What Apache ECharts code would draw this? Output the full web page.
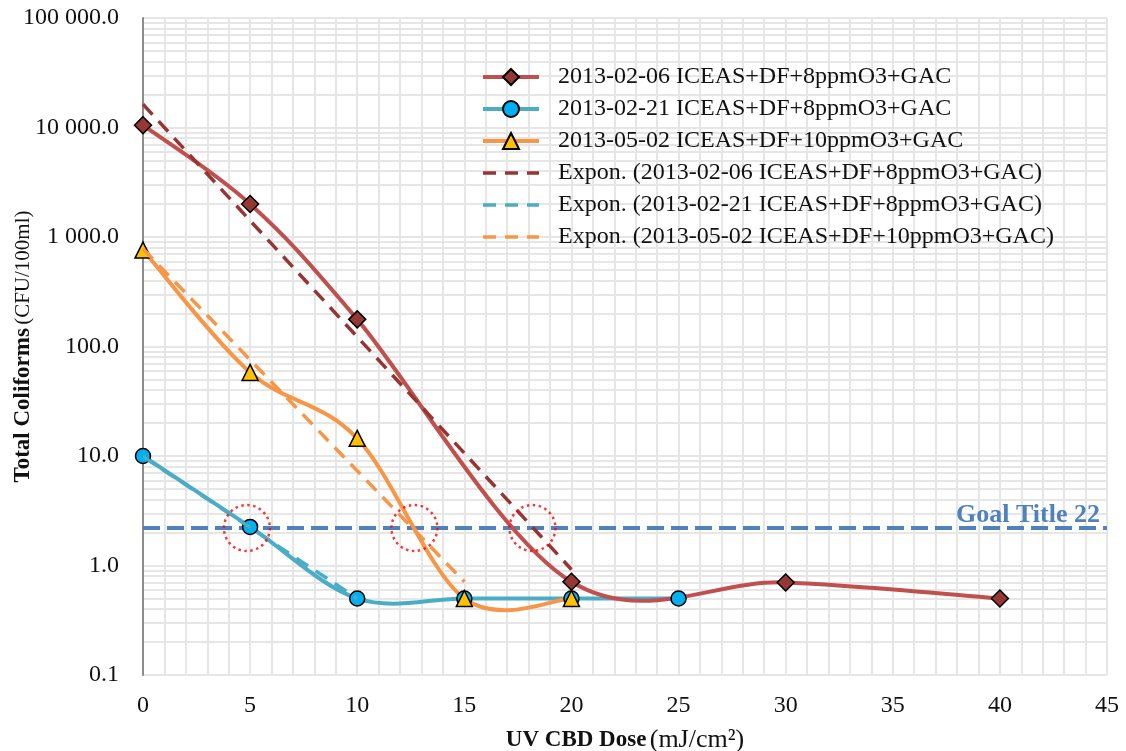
<!DOCTYPE html>
<html>
<head>
<meta charset="utf-8">
<script src="https://cdn.jsdelivr.net/npm/echarts@6/dist/echarts.min.js"></script>
<style>
  html, body { margin: 0; padding: 0; background: #fff; }
  #chart { width: 1126px; height: 751px; }
</style>
</head>
<body>
<div id="chart"></div>
<script>
// UV dose (mJ/cm²) and total coliform counts (CFU/100ml)
const doseFeb06 = [0, 5, 10, 20, 30, 40];
const countFeb06 = [10500, 2000, 177, 0.71, 0.7, 0.5];
const doseFeb21 = [0, 5, 10, 15, 20, 25];
const countFeb21 = [10, 2.25, 0.5, 0.5, 0.5, 0.5];
const doseMay02 = [0, 5, 10, 15, 20];
const countMay02 = [760, 58, 14.5, 0.5, 0.5];

// exponential trendline end points [dose, count]
const trendFeb06 = [[0, 16300], [20, 0.92]];
const trendFeb21 = [[0, 9.9], [10, 0.5]];
const trendMay02 = [[0, 780], [15, 0.71]];

// Title 22 total coliform goal
const goalValue = 2.2;
const goalLabel = 'Goal Title 22';

// highlighted crossings of the goal line
const crossDose = [4.85, 12.67, 18.18];

const names = [
  '2013-02-06 ICEAS+DF+8ppmO3+GAC',
  '2013-02-21 ICEAS+DF+8ppmO3+GAC',
  '2013-05-02 ICEAS+DF+10ppmO3+GAC',
  'Expon. (2013-02-06 ICEAS+DF+8ppmO3+GAC)',
  'Expon. (2013-02-21 ICEAS+DF+8ppmO3+GAC)',
  'Expon. (2013-05-02 ICEAS+DF+10ppmO3+GAC)'
];

const xTicks = { min: 0, max: 45, step: 5 };
const yTicks = { min: 0.1, max: 100000 };

// minor log grid lines (2..9 in every decade)
const yMinorGrid = [];
for (let d = yTicks.min; d < yTicks.max; d *= 10) {
  for (let k = 2; k <= 9; k++) yMinorGrid.push(+(d * k).toPrecision(3));
}

const zip = (xs, ys) => xs.map((x, i) => [x, ys[i]]);
const FONT = '"Liberation Serif", "DejaVu Serif", serif';
const GRID_COLOR = '#e6e6e6';
const TEXT = '#111';

const COLORS = {
  feb06: { line: '#c0504d', fill: '#953735', trend: '#943634' },
  feb21: { line: '#4bacc6', fill: '#00b0f0', trend: '#4bacc6' },
  may02: { line: '#f79646', fill: '#ffc000', trend: '#f79646' }
};

function fmtCount(v) {
  const s = Number(v).toFixed(1);
  const [ip, dp] = s.split('.');
  return ip.replace(/\B(?=(\d{3})+(?!\d))/g, ' ') + '.' + dp;
}

const chart = echarts.init(document.getElementById('chart'), null, { renderer: 'canvas' });

// Smoothed curve through the points (cardinal spline in screen space)
const curve = (xs, ys, color) => ({
  type: 'custom', name: 'curve', coordinateSystem: 'cartesian2d', z: 3, silent: true,
  data: zip(xs, ys), encode: { x: 0, y: 1 },
  renderItem(params, api) {
    if (params.dataIndex !== 0) return null;
    const p = zip(xs, ys).map(v => api.coord(v));
    const n = p.length;
    const children = [];
    for (let i = 0; i < n - 1; i++) {
      const p0 = p[Math.max(i - 1, 0)], p1 = p[i], p2 = p[i + 1], p3 = p[Math.min(i + 2, n - 1)];
      children.push({
        type: 'bezierCurve',
        shape: {
          x1: p1[0], y1: p1[1], x2: p2[0], y2: p2[1],
          cpx1: p1[0] + (p2[0] - p0[0]) / 6, cpy1: p1[1] + (p2[1] - p0[1]) / 6,
          cpx2: p2[0] - (p3[0] - p1[0]) / 6, cpy2: p2[1] - (p3[1] - p1[1]) / 6
        },
        style: { fill: null, stroke: color, lineWidth: 4, lineCap: 'round' }
      });
    }
    return { type: 'group', children };
  }
});

// Markers only; the line itself is drawn by the curve above
const markers = (name, data, c, symbol, size) => ({
  name, type: 'line', data, z: 4,
  symbol, symbolSize: size, showSymbol: true,
  lineStyle: { color: c.line, width: 4, opacity: 0 },
  itemStyle: { color: c.fill, borderColor: '#000', borderWidth: 1.5 },
  emphasis: { disabled: true }
});
const trend = (name, data, color) => ({
  name, type: 'line', data, z: 5,
  symbol: 'none', showSymbol: false,
  lineStyle: { color, width: 3.5, type: [14, 9] },
  itemStyle: { color },
  emphasis: { disabled: true }
});

const legendData = [
  { name: names[0], lineStyle: { color: COLORS.feb06.line, width: 4, opacity: 1, type: 'solid' } },
  { name: names[1], lineStyle: { color: COLORS.feb21.line, width: 4, opacity: 1, type: 'solid' } },
  { name: names[2], lineStyle: { color: COLORS.may02.line, width: 4, opacity: 1, type: 'solid' } },
  { name: names[3], itemStyle: { opacity: 0 }, lineStyle: { color: COLORS.feb06.trend, width: 3.5, type: [13, 9] } },
  { name: names[4], itemStyle: { opacity: 0 }, lineStyle: { color: COLORS.feb21.trend, width: 3.5, type: [13, 9] } },
  { name: names[5], itemStyle: { opacity: 0 }, lineStyle: { color: COLORS.may02.trend, width: 3.5, type: [13, 9] } }
];

chart.setOption({
  animation: false,
  backgroundColor: '#fff',
  grid: { left: 143, right: 19, top: 18, bottom: 76, containLabel: false, outerBoundsMode: 'none' },
  legend: {
    orient: 'vertical', left: 481, top: 65, padding: 0, z: 8,
    itemWidth: 56, itemHeight: 20, itemGap: 8,
    data: legendData,
    textStyle: { fontFamily: FONT, fontSize: 24, lineHeight: 24, color: TEXT, padding: [0, 0, 0, 14] }
  },
  xAxis: {
    type: 'value', min: xTicks.min, max: xTicks.max, interval: xTicks.step,
    name: '{b|UV CBD Dose} {r|(mJ/cm²)}',
    nameLocation: 'middle', nameGap: 52,
    nameTextStyle: {
      rich: {
        b: { fontFamily: FONT, fontSize: 23, fontWeight: 'bold', color: TEXT },
        r: { fontFamily: FONT, fontSize: 26, color: TEXT }
      }
    },
    axisLine: { show: false },
    axisTick: { show: false },
    axisLabel: { fontFamily: FONT, fontSize: 24, color: TEXT, margin: 19 },
    splitLine: { show: true, lineStyle: { color: GRID_COLOR, width: 2 } },
    minorTick: { show: false, splitNumber: 5 },
    minorSplitLine: { show: true, lineStyle: { color: GRID_COLOR, width: 2 } }
  },
  yAxis: {
    type: 'log', logBase: 10, min: yTicks.min, max: yTicks.max,
    name: '{b|Total Coliforms} {r|(CFU/100ml)}',
    nameLocation: 'middle', nameRotate: 90, nameGap: 108, nameMoveOverlap: false,
    nameTextStyle: {
      rich: {
        b: { fontFamily: FONT, fontSize: 23, fontWeight: 'bold', color: TEXT },
        r: { fontFamily: FONT, fontSize: 21, color: TEXT }
      }
    },
    axisLine: { show: true, lineStyle: { color: '#8c8c8c', width: 2 } },
    axisTick: { show: false },
    axisLabel: { fontFamily: FONT, fontSize: 24, color: TEXT, margin: 24, formatter: fmtCount },
    splitLine: { show: true, lineStyle: { color: GRID_COLOR, width: 2 } },
    minorSplitLine: { show: false }
  },
  series: [
    {
      name: 'minor-grid', type: 'line', data: [], z: 0, silent: true,
      markLine: {
        z: 0, silent: true, symbol: 'none', animation: false,
        label: { show: false },
        lineStyle: { color: GRID_COLOR, width: 2, type: 'solid' },
        emphasis: { disabled: true },
        data: yMinorGrid.map(v => ({ yAxis: v }))
      }
    },
    {
      name: 'goal', type: 'line', data: [], z: 2, silent: true,
      markLine: {
        z: 2, silent: true, symbol: 'none', animation: false,
        lineStyle: { color: '#4f81bd', width: 4, type: [17, 7] },
        label: {
          show: true, position: 'insideEndTop', formatter: goalLabel, distance: [7, 0],
          fontFamily: FONT, fontSize: 26, fontWeight: 'bold', color: '#4f81bd'
        },
        emphasis: { disabled: true },
        data: [{ yAxis: goalValue }]
      }
    },
    curve(doseFeb21, countFeb21, COLORS.feb21.line),
    curve(doseMay02, countMay02, COLORS.may02.line),
    curve(doseFeb06, countFeb06, COLORS.feb06.line),
    markers(names[0], zip(doseFeb06, countFeb06), COLORS.feb06, 'diamond', 17),
    markers(names[1], zip(doseFeb21, countFeb21), COLORS.feb21, 'circle', 15),
    markers(names[2], zip(doseMay02, countMay02), COLORS.may02, 'triangle', 16),
    trend(names[3], trendFeb06, COLORS.feb06.trend),
    trend(names[4], trendFeb21, COLORS.feb21.trend),
    trend(names[5], trendMay02, COLORS.may02.trend),
    {
      name: 'crossings', type: 'scatter', z: 6, silent: true,
      data: crossDose.map(x => [x, goalValue]),
      symbol: 'circle', symbolSize: 46,
      itemStyle: { color: 'rgba(0,0,0,0)', borderColor: '#ff0000', borderWidth: 2.5, borderType: [2.5, 3.5] }
    }
  ]
});
</script>
</body>
</html>
